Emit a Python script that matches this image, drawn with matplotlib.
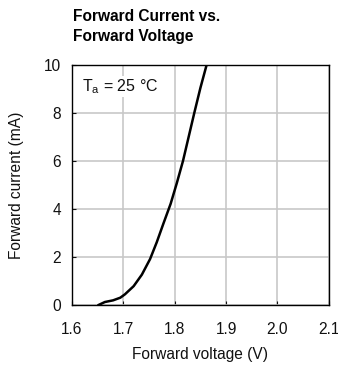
# -*- coding: utf-8 -*-
import matplotlib
matplotlib.use('Agg')
import matplotlib.pyplot as plt

# forward voltage (V) vs forward current (mA)
voltage = [1.651, 1.664, 1.680, 1.694, 1.703, 1.720, 1.736, 1.752, 1.765, 1.778,
           1.792, 1.804, 1.816, 1.827, 1.838, 1.850, 1.862]
current = [0.00, 0.13, 0.20, 0.31, 0.45, 0.79, 1.27, 1.92, 2.62, 3.40,
           4.22, 5.08, 6.00, 7.00, 8.00, 9.05, 10.0]

x_ticks = [1.6, 1.7, 1.8, 1.9, 2.0, 2.1]
x_tick_labels = ['1.6', '1.7', '1.8', '1.9', '2.0', '2.1']
y_ticks = [0, 2, 4, 6, 8, 10]

plt.rcParams['font.family'] = ['Liberation Sans', 'DejaVu Sans']
plt.rcParams['mathtext.fontset'] = 'custom'
plt.rcParams['mathtext.rm'] = 'Liberation Sans'
plt.rcParams['mathtext.it'] = 'Liberation Sans'

fs = 11.2

fig = plt.figure(figsize=(3.38, 3.65), dpi=100)
ax = fig.add_axes([0.213, 0.164, 0.760, 0.658])

ax.plot(voltage, current, color='black', linewidth=1.8, solid_capstyle='round')

ax.set_xlim(1.6, 2.1)
ax.set_ylim(0, 10)
ax.set_xticks(x_ticks)
ax.set_xticklabels(x_tick_labels)
ax.set_yticks(y_ticks)
ax.grid(color='#c8c8c8', linewidth=1.2)
ax.set_axisbelow(True)
ax.tick_params(direction='in', length=3, width=0.8, labelsize=fs, colors='#111111')
ax.tick_params(axis='x', pad=12)
ax.tick_params(axis='y', pad=8)
for s in ax.spines.values():
    s.set_linewidth(1.0)
    s.set_color('black')

ax.set_xlabel('Forward voltage (V)', fontsize=fs, labelpad=7, color='#111111')
ax.set_ylabel('Forward current (mA)', fontsize=fs, labelpad=14, color='#111111')

ax.text(0.039, 0.91, r'T$_\mathrm{a}$ = 25 °C', transform=ax.transAxes,
        fontsize=11.5, ha='left', va='center', color='#111111',
        bbox=dict(facecolor='white', edgecolor='none', pad=1))

fig.text(0.216, 0.975, 'Forward Current vs.\nForward Voltage', fontsize=fs,
         fontweight='bold', ha='left', va='top', linespacing=1.4)

fig.savefig('out.png', dpi=100)
